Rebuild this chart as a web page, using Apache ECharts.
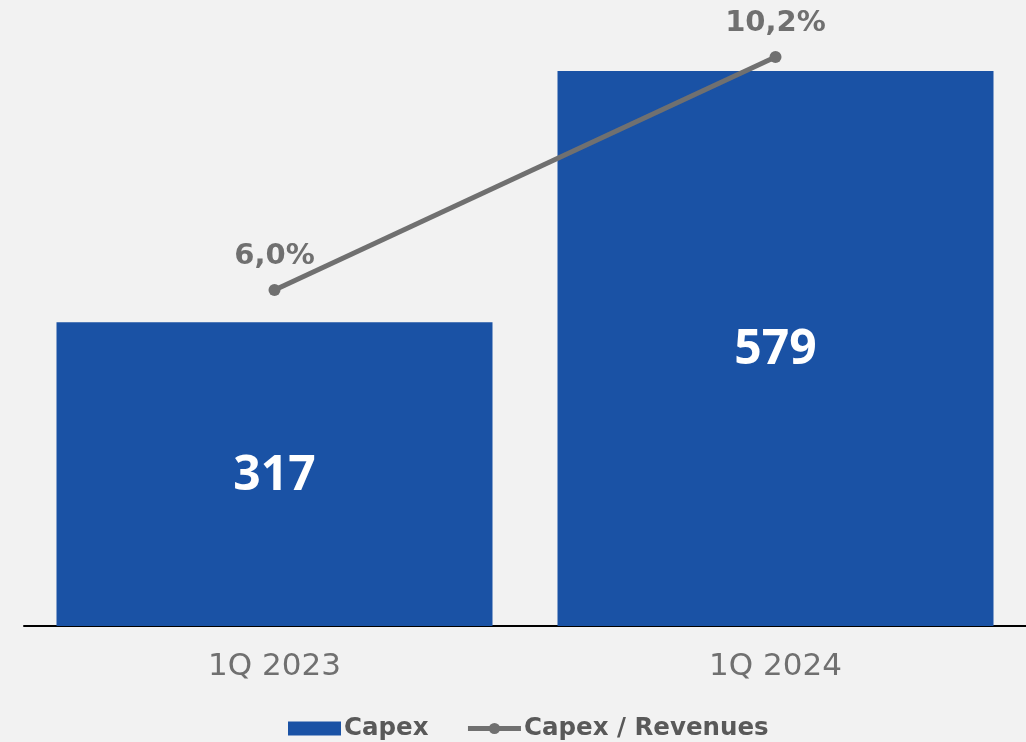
<!DOCTYPE html>
<html>
<head>
<meta charset="utf-8">
<script src="https://cdn.jsdelivr.net/npm/echarts@6/dist/echarts.min.js"></script>
<style>
  html, body { margin: 0; padding: 0; background: #f2f2f2; }
  #chart { width: 1026px; height: 742px; }
</style>
</head>
<body>
<div id="chart"></div>
<script>
// Quarterly capex (bars) and capex as a share of revenues (line)
const categories = ['1Q 2023', '1Q 2024'];
const capex = [317, 579];
const capexToRevenues = [6.0, 10.2];
const seriesNames = ['Capex', 'Capex / Revenues'];

const WIDE = '"DejaVu Sans", sans-serif';
const NUM = '"Open Sans", "Liberation Sans", sans-serif';
const BLUE = '#1a52a5';
const GREY = '#707070';

const fmtPct = v => v.toFixed(1).replace('.', ',') + '%';

const chart = echarts.init(document.getElementById('chart'), null, { renderer: 'canvas' });
chart.setOption({
  backgroundColor: '#f2f2f2',
  animation: false,
  textStyle: { fontFamily: WIDE },
  grid: { left: 24, right: 0, top: 3, bottom: 116, containLabel: false },
  legend: {
    left: 288,
    top: 716,
    padding: 0,
    itemWidth: 53,
    itemHeight: 14,
    itemGap: 37,
    lineStyle: { width: 5 },
    data: [
      { name: seriesNames[0], icon: 'rect' },
      { name: seriesNames[1] }
    ],
    textStyle: { color: '#595959', fontSize: 24.5, fontWeight: 'bold', fontFamily: WIDE, padding: [0, 0, 0, -2] }
  },
  xAxis: {
    type: 'category',
    data: categories,
    axisLine: { show: true, lineStyle: { color: '#000000', width: 2 } },
    axisTick: { show: false },
    axisLabel: { color: GREY, fontSize: 31, fontFamily: WIDE, margin: 25 }
  },
  yAxis: [
    { type: 'value', min: 0, max: 650, show: false, splitLine: { show: false } },
    { type: 'value', min: -0.057, max: 11.173, show: false, splitLine: { show: false } }
  ],
  series: [
    {
      name: seriesNames[0],
      type: 'bar',
      data: capex,
      barWidth: 436,
      itemStyle: { color: BLUE },
      label: {
        show: true,
        position: 'inside',
        color: '#ffffff',
        fontSize: 48,
        fontWeight: 'bold',
        fontFamily: NUM,
        offset: [0, 2]
      }
    },
    {
      name: seriesNames[1],
      type: 'line',
      yAxisIndex: 1,
      data: capexToRevenues,
      symbol: 'circle',
      symbolSize: 12,
      lineStyle: { color: GREY, width: 5 },
      itemStyle: { color: GREY },
      label: {
        show: true,
        position: 'top',
        distance: 13,
        color: GREY,
        fontSize: 29,
        fontWeight: 'bold',
        fontFamily: WIDE,
        formatter: p => fmtPct(p.value)
      },
      z: 5
    }
  ]
});
</script>
</body>
</html>
